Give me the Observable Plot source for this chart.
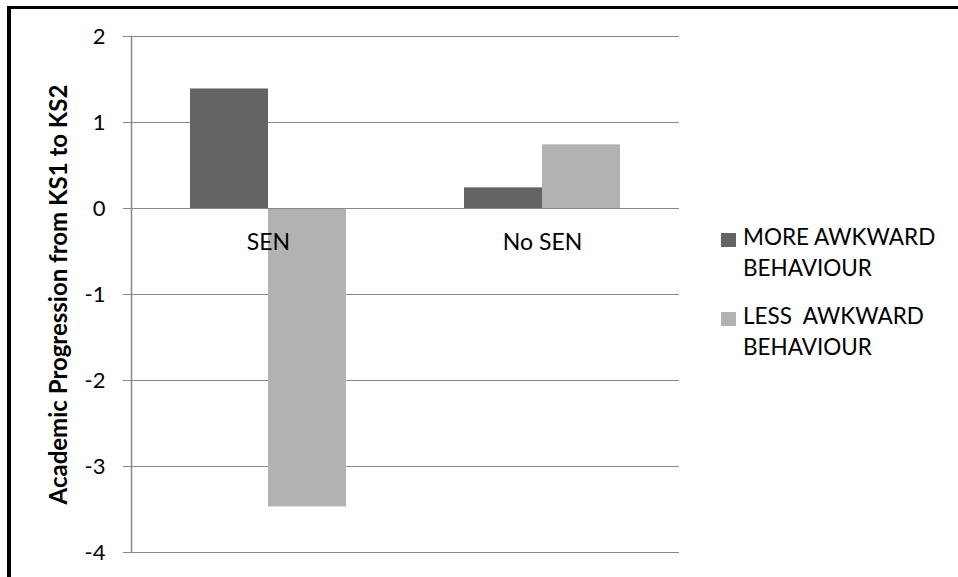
<!DOCTYPE html>
<html><head><meta charset="utf-8">
<script src="https://cdn.jsdelivr.net/npm/d3@7"></script>
<script src="https://cdn.jsdelivr.net/npm/@observablehq/plot@0.6"></script>
<style>
body{margin:0;background:#fff;}
#wrap{position:relative;width:958px;height:577px;overflow:hidden;font-family:Lato, sans-serif;}
#chart{position:absolute;left:0;top:0;}
#border{position:absolute;left:7px;top:6px;right:-10px;bottom:-10px;border-left:4px solid #000;border-top:3px solid #000;pointer-events:none;}
.item{position:absolute;left:721px;font-size:22.5px;line-height:31px;color:#000;white-space:pre;}
.sw{position:absolute;left:0;top:12px;width:15px;height:14px;}
.lab{position:absolute;left:22px;top:0;}
</style></head><body>
<div id="wrap"><div id="chart"></div><div id="legend"></div><div id="border"></div></div>
<script>
const categories = ["SEN", "No SEN"];
const series = ["MORE AWKWARD BEHAVIOUR", "LESS  AWKWARD BEHAVIOUR"];
const legendLines = [["MORE AWKWARD", "BEHAVIOUR"], ["LESS  AWKWARD", "BEHAVIOUR"]];
const moreValues = [1.39, 0.24];
const lessValues = [-3.47, 0.74];
const yTicks = [-4, -3, -2, -1, 0, 1, 2];
const colors = ["#646464", "#b2b2b2"];
const yTitle = "Academic Progression from KS1 to KS2";

const data = categories.flatMap((c, i) => [
  {category: c, series: series[0], value: moreValues[i]},
  {category: c, series: series[1], value: lessValues[i]}
]);

const grid = "#878787";
const chart = Plot.plot({
  width: 958, height: 577,
  marginLeft: 130, marginRight: 279, marginTop: 36, marginBottom: 25,
  style: {fontFamily: "Lato, sans-serif", background: "transparent", color: "#000"},
  fx: {domain: categories, paddingInner: 0, paddingOuter: 0, axis: null, label: null},
  x: {domain: series, paddingInner: 0, paddingOuter: 0.737, axis: null},
  y: {domain: [-4, 2], axis: null},
  color: {domain: series, range: colors},
  marks: [
    Plot.gridY(yTicks, {stroke: grid, strokeOpacity: 1}),
    Plot.barY(data, {fx: "category", x: "series", y: "value", fill: "series"}),
    Plot.ruleY([0], {stroke: grid}),
    Plot.frame({anchor: "left", stroke: grid, strokeWidth: 1.5, facetAnchor: "left"}),
    Plot.axisY(yTicks, {tickSize: 8, tickPadding: 18, fontSize: 22, stroke: grid, fill: "#000", label: null, tickFormat: d => String(d).replace("\u2212", "-"), facetAnchor: "left"}),
    Plot.text(categories, {fx: d => d, y: () => 0, text: d => d, dy: 34, fontSize: 23, fill: "#000"}),
    Plot.text([yTitle], {frameAnchor: "left", textAnchor: "middle", rotate: -90, dx: -72, text: d => d, fontWeight: "bold", fontSize: 24, fill: "#000", facet: "super"})
  ]
});
document.getElementById("chart").appendChild(chart);

const legend = document.getElementById("legend");
const tops = [221, 300];
series.forEach((s, i) => {
  const item = document.createElement("div");
  item.className = "item";
  item.style.top = tops[i] + "px";
  const sw = document.createElement("div");
  sw.className = "sw";
  sw.style.background = colors[i];
  const lab = document.createElement("div");
  lab.className = "lab";
  lab.textContent = legendLines[i].join("\n");
  item.appendChild(sw);
  item.appendChild(lab);
  legend.appendChild(item);
});
</script>
</body></html>
